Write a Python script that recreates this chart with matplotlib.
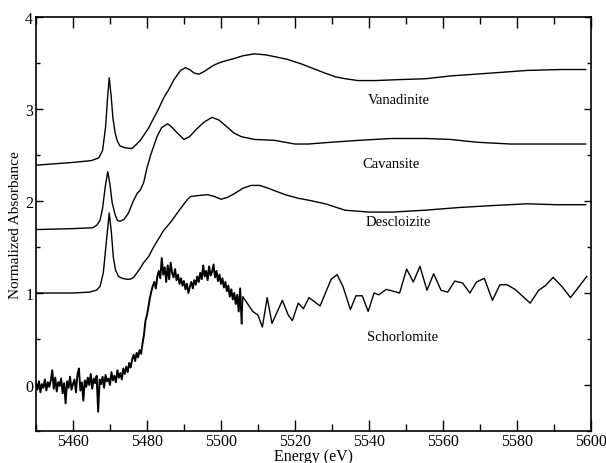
"""Vanadium K-edge XANES of four minerals, stacked with offsets."""

import matplotlib

matplotlib.use("Agg")

import matplotlib.pyplot as plt
import numpy as np
from matplotlib.ticker import MultipleLocator

# --- smooth spectra (energy in eV, normalized absorbance incl. offset) ---
vanadinite_e = [5450, 5460, 5465, 5467, 5468, 5468.8, 5469.4, 5469.8, 5470.3, 5470.8,
                5471.4, 5472.0, 5472.7, 5474, 5475.9, 5477, 5478.2, 5480.4, 5481.8, 5483,
                5484.5, 5486, 5487.3, 5489.1, 5490.4, 5491.5, 5492.8, 5494.1, 5495.5, 5497,
                5498.2, 5500, 5501.8, 5503.6, 5506, 5509, 5512, 5514.5, 5518, 5521.8,
                5525, 5528.2, 5531, 5533.6, 5537, 5541.8, 5548, 5555.4, 5562, 5569,
                5576, 5582.7, 5591.8, 5598.6]
vanadinite_y = [2.39, 2.42, 2.44, 2.47, 2.55, 2.80, 3.15, 3.34, 3.15, 2.90,
                2.74, 2.65, 2.60, 2.58, 2.57, 2.61, 2.66, 2.79, 2.90, 2.99,
                3.12, 3.22, 3.32, 3.42, 3.45, 3.43, 3.39, 3.38, 3.41, 3.45,
                3.48, 3.51, 3.53, 3.55, 3.58, 3.60, 3.59, 3.57, 3.54, 3.49,
                3.44, 3.39, 3.35, 3.33, 3.31, 3.31, 3.32, 3.33, 3.36, 3.38,
                3.40, 3.42, 3.43, 3.43]

cavansite_e = [5450, 5460, 5465.4, 5466.5, 5467.3, 5468.0, 5468.7, 5469.4, 5470.0, 5470.6,
               5471.4, 5472.0, 5472.7, 5473.8, 5475, 5476.2, 5477.3, 5478.2, 5479.1, 5480,
               5481, 5482.7, 5484, 5485.6, 5486.8, 5488.2, 5490.0, 5491.5, 5493.6, 5495.5,
               5497.6, 5499.5, 5501.8, 5503.5, 5505.5, 5509, 5514.5, 5520, 5523.6, 5530,
               5537.3, 5546, 5555.4, 5562, 5569, 5578.2, 5588, 5598.6]
cavansite_y = [1.69, 1.70, 1.71, 1.74, 1.79, 1.92, 2.15, 2.32, 2.18, 1.98,
               1.85, 1.79, 1.78, 1.80, 1.87, 1.99, 2.08, 2.12, 2.20, 2.36,
               2.50, 2.70, 2.80, 2.84, 2.80, 2.74, 2.67, 2.70, 2.79, 2.86,
               2.91, 2.88, 2.80, 2.74, 2.70, 2.67, 2.66, 2.62, 2.62, 2.64,
               2.66, 2.68, 2.68, 2.67, 2.64, 2.62, 2.62, 2.62]

descloizite_e = [5450, 5460, 5464.5, 5466.3, 5467.3, 5468.2, 5469.0, 5469.8, 5470.4, 5470.9,
                 5471.5, 5472.3, 5473.3, 5474.5, 5475.5, 5476.4, 5478.2, 5479.1, 5480.5, 5481.8,
                 5483, 5484.5, 5486.4, 5489.1, 5491, 5491.8, 5494, 5496.4, 5498.2, 5500,
                 5501.8, 5503.6, 5506, 5508.2, 5510.5, 5512.7, 5517.3, 5520.9, 5523.6, 5528.2,
                 5533.6, 5540, 5546.4, 5555, 5564.5, 5573, 5582.7, 5591, 5598.6]
descloizite_y = [1.00, 1.00, 1.01, 1.03, 1.07, 1.22, 1.55, 1.87, 1.65, 1.39,
                 1.25, 1.18, 1.16, 1.15, 1.15, 1.17, 1.27, 1.33, 1.40, 1.50,
                 1.58, 1.68, 1.77, 1.92, 2.02, 2.05, 2.06, 2.07, 2.05, 2.02,
                 2.04, 2.08, 2.14, 2.17, 2.17, 2.14, 2.07, 2.03, 2.01, 1.97,
                 1.90, 1.88, 1.88, 1.90, 1.93, 1.95, 1.97, 1.96, 1.96]

# --- Schorlomite: fine noisy scan (0.4 eV steps from 5450 eV) + coarse tail ---
schorl_fine_start = 5450.0
schorl_fine_step = 0.4
schorl_fine_y = [
    0.02, -0.05, 0.04, -0.08, 0.01, -0.03, 0.06, -0.06, 0.03, -0.02,
    0.05, 0.16, -0.04, 0.08, -0.07, 0.03, -0.01, 0.07, -0.09, 0.02,
    -0.20, 0.04, -0.03, 0.09, -0.05, 0.01, 0.06, -0.08, 0.11, 0.18,
    -0.06, 0.03, -0.17, 0.05, -0.02, 0.08, 0.00, 0.12, -0.04, 0.07,
    0.02, 0.10, -0.29, 0.06, 0.01, 0.09, -0.03, 0.11, 0.04, 0.07,
    0.00, 0.14, 0.05, 0.10, 0.03, 0.16, 0.08, 0.13, 0.06, 0.18,
    0.12, 0.20, 0.14, 0.24, 0.19, 0.28, 0.33, 0.26, 0.35, 0.30,
    0.38, 0.34, 0.45, 0.55, 0.70, 0.76, 0.85, 0.95, 1.02, 1.08,
    1.12, 1.05, 1.18, 1.24, 1.16, 1.38, 1.20, 1.28, 1.12, 1.30,
    1.15, 1.33, 1.22, 1.17, 1.26, 1.14, 1.20, 1.10, 1.16, 1.08,
    1.13, 1.04, 1.10, 1.00, 1.07, 1.12, 1.05, 1.14, 1.09, 1.18,
    1.12, 1.22, 1.15, 1.30, 1.18, 1.24, 1.14, 1.29, 1.19, 1.23,
    1.31, 1.17, 1.24, 1.13, 1.20, 1.10, 1.16, 1.06, 1.12, 1.02,
    1.08, 0.96, 1.04, 0.93, 1.00, 0.88, 0.98, 0.80, 1.05, 0.67,
]
schorl_coarse_e = [5505.6, 5505.9, 5508.6, 5510.0, 5511.2, 5512.5, 5513.8, 5516.6, 5518.2, 5519.3,
                   5520.9, 5522.3, 5523.8, 5526.8, 5529.8, 5531.4, 5533.0, 5535.0, 5536.5, 5538.2,
                   5539.8, 5541.4, 5542.7, 5544.7, 5548.3, 5550.2, 5552.0, 5553.8, 5555.7, 5557.5,
                   5559.5, 5561.3, 5563.2, 5565.3, 5567.3, 5569.1, 5571.2, 5573.4, 5575.4, 5577.3,
                   5579.5, 5583.6, 5585.9, 5587.7, 5589.8, 5592.2, 5594.5, 5598.9]
schorl_coarse_y = [0.67, 0.96, 0.80, 0.76, 0.63, 0.95, 0.67, 0.92, 0.76, 0.70,
                   0.89, 0.83, 0.95, 0.86, 1.15, 1.20, 1.07, 0.82, 0.97, 0.97,
                   0.80, 1.00, 0.98, 1.04, 1.00, 1.26, 1.12, 1.29, 1.03, 1.21,
                   1.03, 1.01, 1.13, 1.11, 1.00, 1.12, 1.16, 0.92, 1.09, 1.09,
                   1.04, 0.89, 1.03, 1.08, 1.17, 1.07, 0.95, 1.18]

labels = ["Vanadinite", "Cavansite", "Descloizite", "Schorlomite"]
label_e = [5548, 5546, 5548, 5549]
label_y = [3.10, 2.41, 1.78, 0.53]


def main() -> None:
    plt.rcParams["font.family"] = ["Liberation Serif", "DejaVu Serif"]
    fig = plt.figure(figsize=(6.06, 4.64), dpi=100)
    ax = fig.add_axes([0.0594, 0.069, 0.9156, 0.892])

    line_kw = dict(color="black", linewidth=1.0)
    ax.plot(vanadinite_e, vanadinite_y, **line_kw)
    ax.plot(cavansite_e, cavansite_y, **line_kw)
    ax.plot(descloizite_e, descloizite_y, **line_kw)

    fine_e = schorl_fine_start + schorl_fine_step * np.arange(len(schorl_fine_y))
    ax.plot(fine_e, schorl_fine_y, color="black", linewidth=1.4)
    ax.plot(schorl_coarse_e, schorl_coarse_y, **line_kw)

    for name, xe, ye in zip(labels, label_e, label_y):
        ax.text(xe, ye, name, ha="center", va="center", fontsize=10.5)

    ax.set_xlim(5450, 5600)
    ax.set_ylim(-0.5, 4)
    ax.xaxis.set_major_locator(MultipleLocator(20))
    ax.xaxis.set_minor_locator(MultipleLocator(10))
    ax.yaxis.set_major_locator(MultipleLocator(1))
    ax.yaxis.set_minor_locator(MultipleLocator(0.5))
    ax.tick_params(axis="x", which="major", direction="in", length=8, width=1.0,
                   top=True, labelsize=11.5, pad=1.5)
    ax.tick_params(axis="x", which="minor", direction="in", length=5, width=1.0, top=True)
    ax.tick_params(axis="y", which="major", direction="in", length=5, width=1.0,
                   right=True, labelsize=11.5, pad=2)
    ax.tick_params(axis="y", which="minor", direction="in", length=3, width=1.0, right=True)
    for spine in ax.spines.values():
        spine.set_linewidth(1.2)

    ax.set_xlabel("Energy (eV)", fontsize=11.5, labelpad=-1)
    ax.set_ylabel("Normalized Absorbance", fontsize=11, labelpad=2)

    fig.savefig("out.png", dpi=100)
    plt.close(fig)


if __name__ == "__main__":
    main()
